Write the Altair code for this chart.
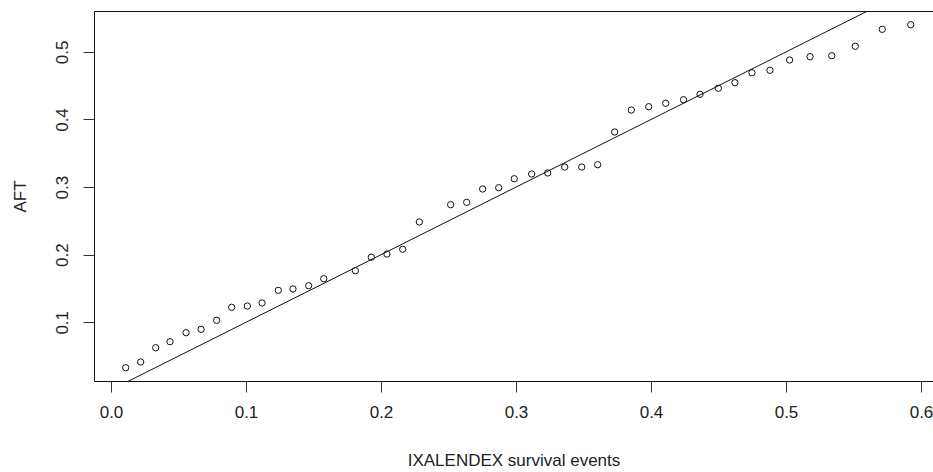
import altair as alt
import pandas as pd

# Observed survival-event quantiles vs. AFT model quantiles
events = [0.0109, 0.0220, 0.0331, 0.0437, 0.0556, 0.0667, 0.0783, 0.0894, 0.1010,
          0.1119, 0.1239, 0.1348, 0.1464, 0.1576, 0.1810, 0.1928, 0.2044, 0.2161,
          0.2284, 0.2516, 0.2635, 0.2753, 0.2872, 0.2987, 0.3116, 0.3235, 0.3361,
          0.3487, 0.3605, 0.3731, 0.3854, 0.3983, 0.4109, 0.4241, 0.4363, 0.4499,
          0.4622, 0.4748, 0.4881, 0.5027, 0.5178, 0.5339, 0.5513, 0.5713, 0.5924]
aft = [0.0328, 0.0413, 0.0624, 0.0713, 0.0846, 0.0896, 0.1030, 0.1222, 0.1241,
       0.1286, 0.1473, 0.1493, 0.1541, 0.1645, 0.1763, 0.1962, 0.2010, 0.2081,
       0.2484, 0.2740, 0.2775, 0.2972, 0.2991, 0.3124, 0.3194, 0.3209, 0.3297,
       0.3297, 0.3331, 0.3815, 0.4140, 0.4189, 0.4240, 0.4293, 0.4373, 0.4462,
       0.4544, 0.4692, 0.4728, 0.4880, 0.4929, 0.4944, 0.5083, 0.5334, 0.5402]

# Identity reference line y = x
ref_x = [-0.05, 0.65]

x_ticks = [0.0, 0.1, 0.2, 0.3, 0.4, 0.5, 0.6]
y_ticks = [0.1, 0.2, 0.3, 0.4, 0.5]

x_domain = [-0.01259, 0.60889]
y_domain = [0.01317, 0.5605]

FONT = "Liberation Sans"
TXT = "#222222"

pts = pd.DataFrame({"events": events, "aft": aft})
ref = pd.DataFrame({"events": ref_x, "aft": ref_x})

x_enc = alt.X(
    "events:Q",
    scale=alt.Scale(domain=x_domain, nice=False, zero=False),
    axis=alt.Axis(
        values=x_ticks, format=".1f", title="IXALENDEX survival events",
        domain=False, grid=False, tickSize=11, tickColor="#333333",
        labelPadding=12, labelFontSize=17, labelFont=FONT, labelColor=TXT,
        titleFontSize=17, titleFont=FONT, titleColor=TXT, titleFontWeight="normal",
        titleY=79, titleBaseline="middle",
    ),
)
y_enc = alt.Y(
    "aft:Q",
    scale=alt.Scale(domain=y_domain, nice=False, zero=False),
    axis=alt.Axis(
        values=y_ticks, format=".1f", title="AFT",
        domain=False, grid=False, tickSize=11, tickColor="#333333",
        labelAngle=-90, labelAlign="center", labelBaseline="bottom",
        labelPadding=12, labelFontSize=17, labelFont=FONT, labelColor=TXT,
        titleFontSize=17, titleFont=FONT, titleColor=TXT, titleFontWeight="normal",
        titleX=-74, titleBaseline="middle",
    ),
)

points = alt.Chart(pts).mark_point(
    shape="circle", filled=False, size=40, strokeWidth=1, color="#111111", opacity=1
).encode(x=x_enc, y=y_enc)

line = alt.Chart(ref).mark_line(
    color="#111111", strokeWidth=1, clip=True
).encode(x=x_enc, y=y_enc)

chart = (
    alt.layer(line, points)
    .properties(
        width=839, height=370,
        background="white",
        autosize=alt.AutoSizeParams(type="none"),
        padding={"left": 94, "top": 11, "right": 0, "bottom": 91},
    )
    .configure_view(stroke="#111111", strokeWidth=1)
)

chart.save("out.html", embed_options={"renderer": "svg", "actions": False})
